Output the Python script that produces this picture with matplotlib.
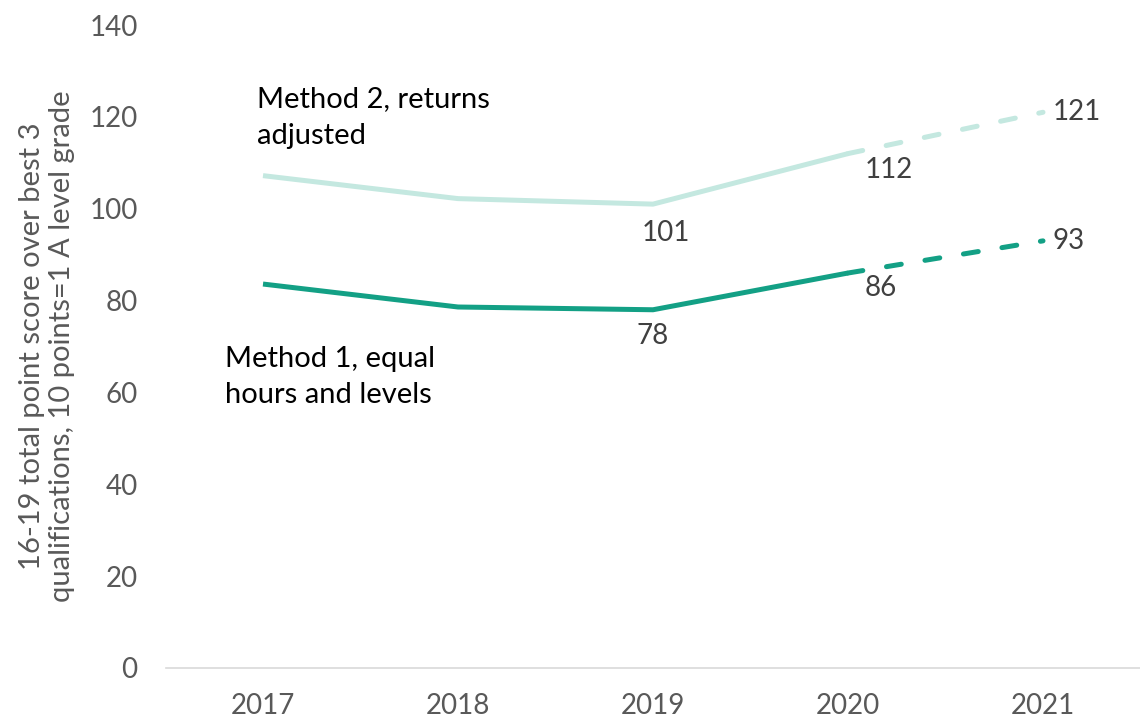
import matplotlib
matplotlib.use("Agg")
import matplotlib.pyplot as plt

plt.rcParams['font.family'] = ['Lato', 'DejaVu Sans']

years = ["2017", "2018", "2019", "2020", "2021"]
method1 = [83.6, 78.6, 78, 86, 93]
method2 = [107.2, 102.2, 101, 112, 121]
yticks = [0, 20, 40, 60, 80, 100, 120, 140]

dark = "#13a085"
light = "#c4e8e0"
tick_col = "#595959"
lab_col = "#404040"

fig = plt.figure(figsize=(11.4, 7.22), dpi=100)
ax = fig.add_axes([165.5 / 1140, 54 / 722, 975 / 1140, 643 / 722])

x = list(range(len(years)))
for vals, col in ((method2, light), (method1, dark)):
    ax.plot(x[:4], vals[:4], color=col, lw=3.6, solid_capstyle='butt', solid_joinstyle='round')
    ax.plot(x[3:], vals[3:], color=col, lw=3.6, dash_capstyle='round',
            linestyle=(0, (3.0, 4.8)))

ax.set_xlim(-0.5, 4.5)
ax.set_ylim(0, 140)
ax.set_xticks(x)
ax.set_xticklabels(years)
ax.set_yticks(yticks)
ax.tick_params(length=0, labelsize=20, colors=tick_col)
ax.tick_params(axis='x', pad=18)
ax.tick_params(axis='y', pad=20)
for s in ("top", "right", "left"):
    ax.spines[s].set_visible(False)
ax.spines["bottom"].set_color("#d9d9d9")
ax.spines["bottom"].set_linewidth(1.2)

ax.set_ylabel("16-19 total point score over best 3\nqualifications, 10 points=1 A level grade",
              fontsize=21, color=tick_col, labelpad=10, linespacing=1.22)

# value labels
def lab(i, vals, dx, dy, ha):
    ax.annotate(f"{vals[i]:.0f}", (x[i], vals[i]), xytext=(dx, dy), textcoords='offset points',
                ha=ha, va='center', fontsize=20, color=lab_col)

lab(2, method2, 9, -21, 'center')
lab(3, method2, 12, -12, 'left')
lab(4, method2, 7, 0, 'left')
lab(2, method1, 0, -19, 'center')
lab(3, method1, 12, -11, 'left')
lab(4, method1, 7, 0, 'left')

ax.text(-0.031, 126.7, "Method 2, returns\nadjusted", ha='left', va='top', fontsize=21,
        color="black", linespacing=1.5)
ax.text(-0.195, 70.2, "Method 1, equal\nhours and levels", ha='left', va='top', fontsize=21,
        color="black", linespacing=1.5)

fig.savefig("out.png", dpi=100)
